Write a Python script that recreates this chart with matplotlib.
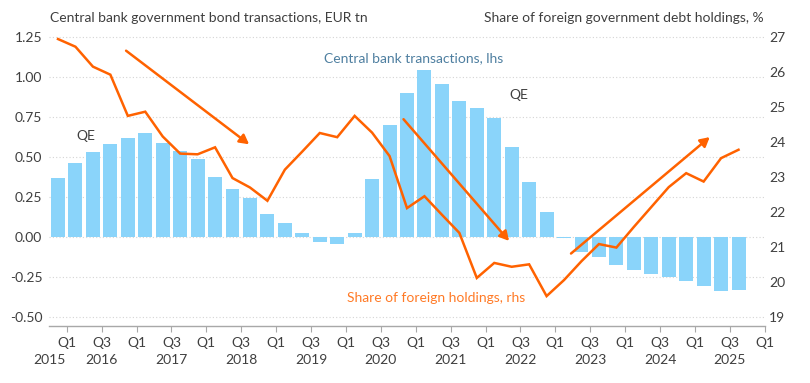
import matplotlib
matplotlib.use("Agg")
import matplotlib.pyplot as plt
import matplotlib.transforms as mtransforms
import numpy as np

plt.rcParams['font.family'] = ['Lato', 'DejaVu Sans']

# ---- data: quarterly, 2015 Q4 .. 2025 Q3 ----
cb_transactions = [0.37, 0.46, 0.53, 0.58, 0.62, 0.65, 0.59, 0.54, 0.49, 0.375,
                   0.30, 0.245, 0.146, 0.089, 0.027, -0.034, -0.042, 0.027, 0.36, 0.70,
                   0.904, 1.046, 0.958, 0.848, 0.808, 0.744, 0.566, 0.344, 0.154, -0.008,
                   -0.094, -0.127, -0.173, -0.209, -0.231, -0.25, -0.273, -0.31, -0.34, -0.335]
foreign_share = [26.95, 26.73, 26.16, 25.93, 24.75, 24.87, 24.16, 23.67, 23.65, 23.85,
                 22.97, 22.70, 22.32, 23.21, 23.73, 24.26, 24.14, 24.75, 24.27, 23.60,
                 22.11, 22.45, 21.92, 21.40, 20.11, 20.54, 20.43, 20.50, 19.59, 20.05,
                 20.59, 21.08, 20.98, 21.57, 22.14, 22.71, 23.11, 22.87, 23.54, 23.78]
quarter_tick_labels = ["Q1", "Q3"] * 10 + ["Q1"]
year_labels = ["2015", "2016", "2017", "2018", "2019", "2020", "2021", "2022", "2023", "2024", "2025"]
left_ticks = [-0.50, -0.25, 0.00, 0.25, 0.50, 0.75, 1.00, 1.25]
right_ticks = [19, 20, 21, 22, 23, 24, 25, 26, 27]

# annotation arrows (left-axis data coords): (start, end)
arrows = [((3.9, 1.166), (10.95, 0.58)),
          ((19.8, 0.737), (25.85, -0.025)),
          ((29.4, -0.104), (37.35, 0.625))]

BLUE = "#8AD4FA"
ORANGE = "#FF6200"
TXT = "#3f3f3f"
FS = 10

fig = plt.figure(figsize=(8.1, 3.83), dpi=100)
W, H = 810, 383
ax = fig.add_axes([49.3 / W, 57.3 / H, (764.7 - 49.3) / W, (325.7 - 30.9) / H])
x = np.arange(len(cb_transactions))
ax.bar(x, cb_transactions, width=0.8, color=BLUE, zorder=2)
ax.set_xlim(-0.5, 40.5)
ax.set_ylim(-0.556, 1.29)
ax.set_yticks(left_ticks)
ax.set_yticklabels([f"{v:.2f}" for v in left_ticks])
ax.set_axisbelow(True)
ax.grid(axis='y', linestyle=(0, (1, 2)), color='#d4d4d4', linewidth=0.8)
for s in ['top', 'left', 'right']:
    ax.spines[s].set_visible(False)
ax.spines['bottom'].set_color('#a8a8a8')
ax.spines['bottom'].set_linewidth(1.0)
ax.tick_params(axis='y', length=0, pad=5, labelsize=FS, labelcolor=TXT)

qpos = np.arange(0.5, 41, 2)
ax.set_xticks(qpos)
ax.set_xticklabels(quarter_tick_labels)
ax.tick_params(axis='x', length=4, color='#a8a8a8', pad=4, labelsize=FS, labelcolor=TXT)
ypos = [-0.5] + list(np.arange(2.5, 40, 4))
trans = mtransforms.blended_transform_factory(ax.transData, ax.transAxes)
for yp, lab in zip(ypos, year_labels):
    ax.text(yp, -0.118, lab, transform=trans, ha='center', va='center', fontsize=FS, color=TXT)

for (s, e) in arrows:
    ax.annotate("", xy=e, xytext=s,
                arrowprops=dict(arrowstyle='-|>,head_length=0.55,head_width=0.3',
                                color=ORANGE, lw=1.8, shrinkA=0, shrinkB=0), zorder=5)

ax.text(1.59, 0.63, "QE", ha='center', va='center', fontsize=FS, color=TXT)
ax.text(26.39, 0.889, "QE", ha='center', va='center', fontsize=FS, color=TXT)
ax.text(20.4, 1.12, "Central bank transactions, lhs", ha='center', va='center',
        fontsize=FS, color="#4E7FA0")
ax.text(21.67, -0.381, "Share of foreign holdings, rhs", ha='center', va='center',
        fontsize=FS, color="#FF7A26")

ax2 = ax.twinx()
ax2.plot(x, foreign_share, color=ORANGE, lw=1.8, solid_joinstyle='miter', zorder=4)
ax2.set_ylim(18.743, 27.183)
ax2.set_yticks(right_ticks)
ax2.tick_params(axis='y', length=0, pad=3, labelsize=FS, labelcolor=TXT)
for s in ['top', 'left', 'right', 'bottom']:
    ax2.spines[s].set_visible(False)

fig.text(50 / W, 1 - 18 / H, "Central bank government bond transactions, EUR tn",
         ha='left', va='center', fontsize=FS, color=TXT)
fig.text(763.5 / W, 1 - 18 / H, "Share of foreign government debt holdings, %",
         ha='right', va='center', fontsize=FS, color=TXT)

fig.savefig("out.png", dpi=100)
